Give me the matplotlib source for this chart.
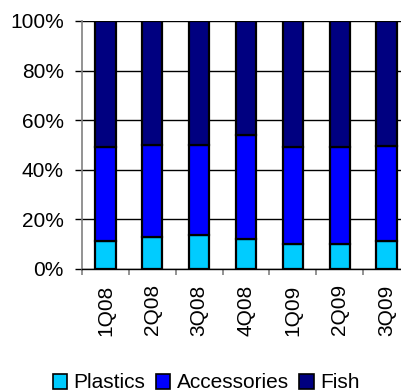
import matplotlib
matplotlib.use("Agg")
import matplotlib.pyplot as plt
from matplotlib.patches import Patch
import numpy as np

plt.rcParams['font.family'] = ['Liberation Sans', 'DejaVu Sans']

categories = ["1Q08", "2Q08", "3Q08", "4Q08", "1Q09", "2Q09", "3Q09"]
plastics = [11.2, 12.8, 13.6, 12.1, 10.2, 10.2, 11.2]
accessories = [38.0, 37.1, 36.2, 41.8, 39.0, 39.0, 38.5]
fish = [100 - p - a for p, a in zip(plastics, accessories)]
series_names = ["Plastics", "Accessories", "Fish"]
colors = ["#00CCFF", "#0000FF", "#000080"]

fig = plt.figure(figsize=(4.01, 3.92), dpi=100)
ax = fig.add_axes([82/401, 1 - 269/392, (410 - 82)/401, (269 - 21)/392])

x = np.arange(len(categories))
width = 0.43
bottom = np.zeros(len(categories))
for vals, c in zip([plastics, accessories, fish], colors):
    ax.bar(x, vals, width, bottom=bottom, color=c, edgecolor="black", linewidth=1.6, zorder=3)
    bottom += np.array(vals)

ax.set_xlim(-0.5, len(categories) - 0.5)
ax.set_ylim(0, 100)
ax.set_yticks(np.arange(0, 101, 20))
ax.set_yticklabels([f"{v}%" for v in range(0, 101, 20)])
ax.yaxis.grid(True, color="black", linewidth=1.0, zorder=0)
ax.set_axisbelow(True)

ax.set_xticks(x)
ax.set_xticklabels(categories, rotation=90, va="top", ha="center")
ax.set_xticks(np.arange(-0.5, len(categories), 1), minor=True)
ax.tick_params(axis="x", which="major", length=0, pad=11)
ax.tick_params(axis="x", which="minor", length=4, width=1.2, color="#808080")
ax.tick_params(axis="y", length=5, width=1.0, color="black", pad=8)
ax.tick_params(labelsize=15)

for s in ["top", "right"]:
    ax.spines[s].set_visible(False)
ax.spines["left"].set_color("#808080")
ax.spines["left"].set_linewidth(1.2)
ax.spines["bottom"].set_color("black")
ax.spines["bottom"].set_linewidth(1.0)

handles = [Patch(facecolor=c, edgecolor="black", linewidth=1.2) for c in colors]
fig.legend(handles, series_names, loc="center", bbox_to_anchor=(206/401, 1 - 383/392),
           ncol=3, frameon=False, fontsize=15, handlelength=0.7, handleheight=0.7,
           handletextpad=0.3, columnspacing=0.5, borderpad=0, borderaxespad=0)

fig.savefig("out.png", dpi=100)
